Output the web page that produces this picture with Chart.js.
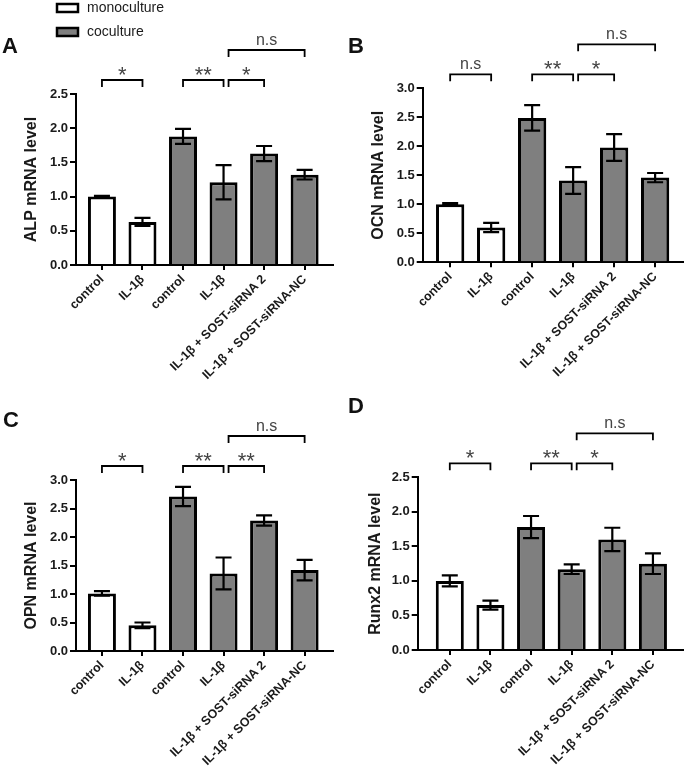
<!DOCTYPE html>
<html>
<head>
<meta charset="utf-8">
<script src="https://cdn.jsdelivr.net/npm/chart.js@4.4.1/dist/chart.umd.min.js"></script>
<style>
  html, body { margin: 0; padding: 0; background: #fff; }
  #wrap { position: relative; width: 685px; height: 774px; }
  canvas { position: absolute; }
</style>
</head>
<body>
<div id="wrap">
  <canvas id="chartA" width="342" height="390" style="left:0;top:0;width:342px;height:390px"></canvas>
  <canvas id="chartB" width="343" height="390" style="left:342px;top:0;width:343px;height:390px"></canvas>
  <canvas id="chartC" width="342" height="384" style="left:0;top:390px;width:342px;height:384px"></canvas>
  <canvas id="chartD" width="343" height="384" style="left:342px;top:390px;width:343px;height:384px"></canvas>
</div>
<script>
// categories + which culture each bar belongs to
const categories = ['control', 'IL-1β', 'control', 'IL-1β', 'IL-1β + SOST-siRNA 2', 'IL-1β + SOST-siRNA-NC'];
const groups = ['monoculture', 'monoculture', 'coculture', 'coculture', 'coculture', 'coculture'];

// mean +/- error
const alpMean = [1.00, 0.63, 1.88, 1.21, 1.63, 1.32];
const alpErr = [0.01, 0.06, 0.11, 0.25, 0.11, 0.07];
const ocnMean = [1.00, 0.60, 2.49, 1.41, 1.98, 1.46];
const ocnErr = [0.02, 0.08, 0.22, 0.23, 0.23, 0.08];
const opnMean = [1.01, 0.45, 2.71, 1.36, 2.29, 1.42];
const opnErr = [0.04, 0.05, 0.17, 0.28, 0.09, 0.18];
const runxMean = [1.00, 0.65, 1.78, 1.17, 1.60, 1.25];
const runxErr = [0.08, 0.065, 0.16, 0.07, 0.17, 0.15];

// y tick maxima
const alpTicksMax = 2.5, ocnTicksMax = 3.0, opnTicksMax = 3.0, runxTicksMax = 2.5;

// significance brackets: [from, to, label, row]
const alpSig = [[0, 1, '*', 0], [2, 3, '**', 0], [3, 4, '*', 0], [3, 5, 'n.s', 1]];
const ocnSig = [[0, 1, 'n.s', 0], [2, 3, '**', 0], [3, 4, '*', 0], [3, 5, 'n.s', 1]];
const opnSig = [[0, 1, '*', 0], [2, 3, '**', 0], [3, 4, '**', 0], [3, 5, 'n.s', 1]];
const runxSig = [[0, 1, '*', 0], [2, 3, '**', 0], [3, 4, '*', 0], [3, 5, 'n.s', 1]];

const legendItems = ['monoculture', 'coculture'];
const groupColors = { monoculture: '#ffffff', coculture: '#7f7f7f' };

Chart.defaults.font.family = '"Liberation Sans", Arial, sans-serif';
Chart.defaults.color = '#1a1a1a';

const panels = [
  { id: 'chartA', letter: 'A', letterAt: [2, 53], title: 'ALP mRNA level', mean: alpMean, err: alpErr, yMax: alpTicksMax, sig: alpSig,
    padL: 18.4, axisX: 76, top: 94, bottom: 265, padR: 9, xMin: -0.64, xMax: 5.7, legend: true },
  { id: 'chartB', letter: 'B', letterAt: [6, 53], title: 'OCN mRNA level', mean: ocnMean, err: ocnErr, yMax: ocnTicksMax, sig: ocnSig,
    padL: 23.4, axisX: 80.7, top: 88.3, bottom: 262.3, padR: 2, xMin: -0.67, xMax: 5.68 },
  { id: 'chartC', letter: 'C', letterAt: [3, 37], title: 'OPN mRNA level', mean: opnMean, err: opnErr, yMax: opnTicksMax, sig: opnSig,
    padL: 18.4, axisX: 76, top: 90, bottom: 261, padR: 9, xMin: -0.64, xMax: 5.7 },
  { id: 'chartD', letter: 'D', letterAt: [6, 23], title: 'Runx2 mRNA level', mean: runxMean, err: runxErr, yMax: runxTicksMax, sig: runxSig,
    padL: 20.4, axisX: 75.7, top: 87.3, bottom: 260, padR: 2, xMin: -0.79, xMax: 5.74 }
];

const extras = {
  id: 'extras',
  afterDatasetsDraw(chart, args, opts) {
    const p = opts.panel;
    const { ctx, chartArea } = chart;
    const x = chart.scales.x, y = chart.scales.y;
    ctx.save();

    // error bars
    ctx.strokeStyle = '#000';
    ctx.lineWidth = 2.2;
    p.mean.forEach((m, i) => {
      const px = x.getPixelForValue(i);
      const hi = y.getPixelForValue(m + p.err[i]);
      const lo = y.getPixelForValue(m - p.err[i]);
      ctx.beginPath();
      ctx.moveTo(px, hi); ctx.lineTo(px, lo);
      ctx.moveTo(px - 8, hi); ctx.lineTo(px + 8, hi);
      ctx.moveTo(px - 8, lo); ctx.lineTo(px + 8, lo);
      ctx.stroke();
    });

    // brackets
    ctx.lineWidth = 1.8;
    ctx.textAlign = 'center';
    ctx.textBaseline = 'alphabetic';
    p.sig.forEach(([a, b, label, row]) => {
      const shared = p.sig.some(s => s[1] === a);
      const x1 = x.getPixelForValue(a) + (shared ? 5 : 0);
      const x2 = x.getPixelForValue(b);
      const ly = chartArea.top - (row ? 44 : 14);
      ctx.strokeStyle = '#000';
      ctx.beginPath();
      ctx.moveTo(x1, ly + 7); ctx.lineTo(x1, ly); ctx.lineTo(x2, ly); ctx.lineTo(x2, ly + 7);
      ctx.stroke();
      ctx.fillStyle = '#444';
      if (label === 'n.s') {
        ctx.font = '16px "Liberation Sans", Arial, sans-serif';
        ctx.fillText(label, (x1 + x2) / 2, ly - 5);
      } else {
        ctx.font = '22px "Liberation Sans", Arial, sans-serif';
        ctx.fillText(label, (x1 + x2) / 2, ly + 2);
      }
    });

    // panel letter
    ctx.fillStyle = '#111';
    ctx.textAlign = 'left';
    ctx.font = 'bold 22px "Liberation Sans", Arial, sans-serif';
    ctx.fillText(p.letter, p.letterAt[0], p.letterAt[1]);

    // legend (only drawn once, top of panel A)
    if (p.legend) {
      ctx.font = '14px "Liberation Sans", Arial, sans-serif';
      ctx.textBaseline = 'middle';
      legendItems.forEach((name, k) => {
        const by = 4 + k * 24;
        ctx.fillStyle = groupColors[name];
        ctx.fillRect(57, by, 21, 8);
        ctx.strokeStyle = '#000';
        ctx.lineWidth = 2.5;
        ctx.strokeRect(57, by, 21, 8);
        ctx.fillStyle = '#1a1a1a';
        ctx.fillText(name, 87, by + 4);
      });
    }
    ctx.restore();
  }
};

panels.forEach(p => {
  const canvas = document.getElementById(p.id);
  const H = canvas.height;
  new Chart(canvas.getContext('2d'), {
    type: 'bar',
    data: {
      datasets: [{
        data: p.mean.map((v, i) => ({ x: i, y: v })),
        backgroundColor: groups.map(g => groupColors[g]),
        borderColor: '#000',
        borderWidth: 3,
        barPercentage: 0.69,
        categoryPercentage: 1
      }]
    },
    options: {
      responsive: false,
      animation: false,
      layout: { padding: { left: p.padL, top: p.top, right: p.padR, bottom: 0 } },
      plugins: { legend: { display: false }, tooltip: { enabled: false }, extras: { panel: p } },
      scales: {
        x: {
          type: 'linear',
          offset: false,
          min: p.xMin,
          max: p.xMax,
          afterBuildTicks: s => { s.ticks = categories.map((c, i) => ({ value: i })); },
          afterFit: s => { s.height = H - p.bottom; },
          grid: { offset: false, drawOnChartArea: false, drawTicks: true, tickLength: 5, color: '#000', lineWidth: 2 },
          border: { display: true, color: '#000', width: 2 },
          ticks: {
            autoSkip: false, minRotation: 45, maxRotation: 45, padding: 2,
            color: '#1a1a1a', font: { size: 12.5, weight: 'bold' },
            callback: v => categories[v] ?? ''
          }
        },
        y: {
          min: 0,
          max: p.yMax,
          afterFit: s => { s.width = p.axisX - p.padL; },
          grid: { drawOnChartArea: false, drawTicks: true, tickLength: 6, color: '#000', lineWidth: 2 },
          border: { display: true, color: '#000', width: 2 },
          ticks: { stepSize: 0.5, padding: 2, color: '#1a1a1a', font: { size: 13, weight: 'bold' }, callback: v => v.toFixed(1) },
          title: { display: true, text: p.title, color: '#1a1a1a', font: { size: 16, weight: 'bold' }, padding: { top: 4, bottom: 4 } }
        }
      }
    },
    plugins: [extras]
  });
});
</script>
</body>
</html>
